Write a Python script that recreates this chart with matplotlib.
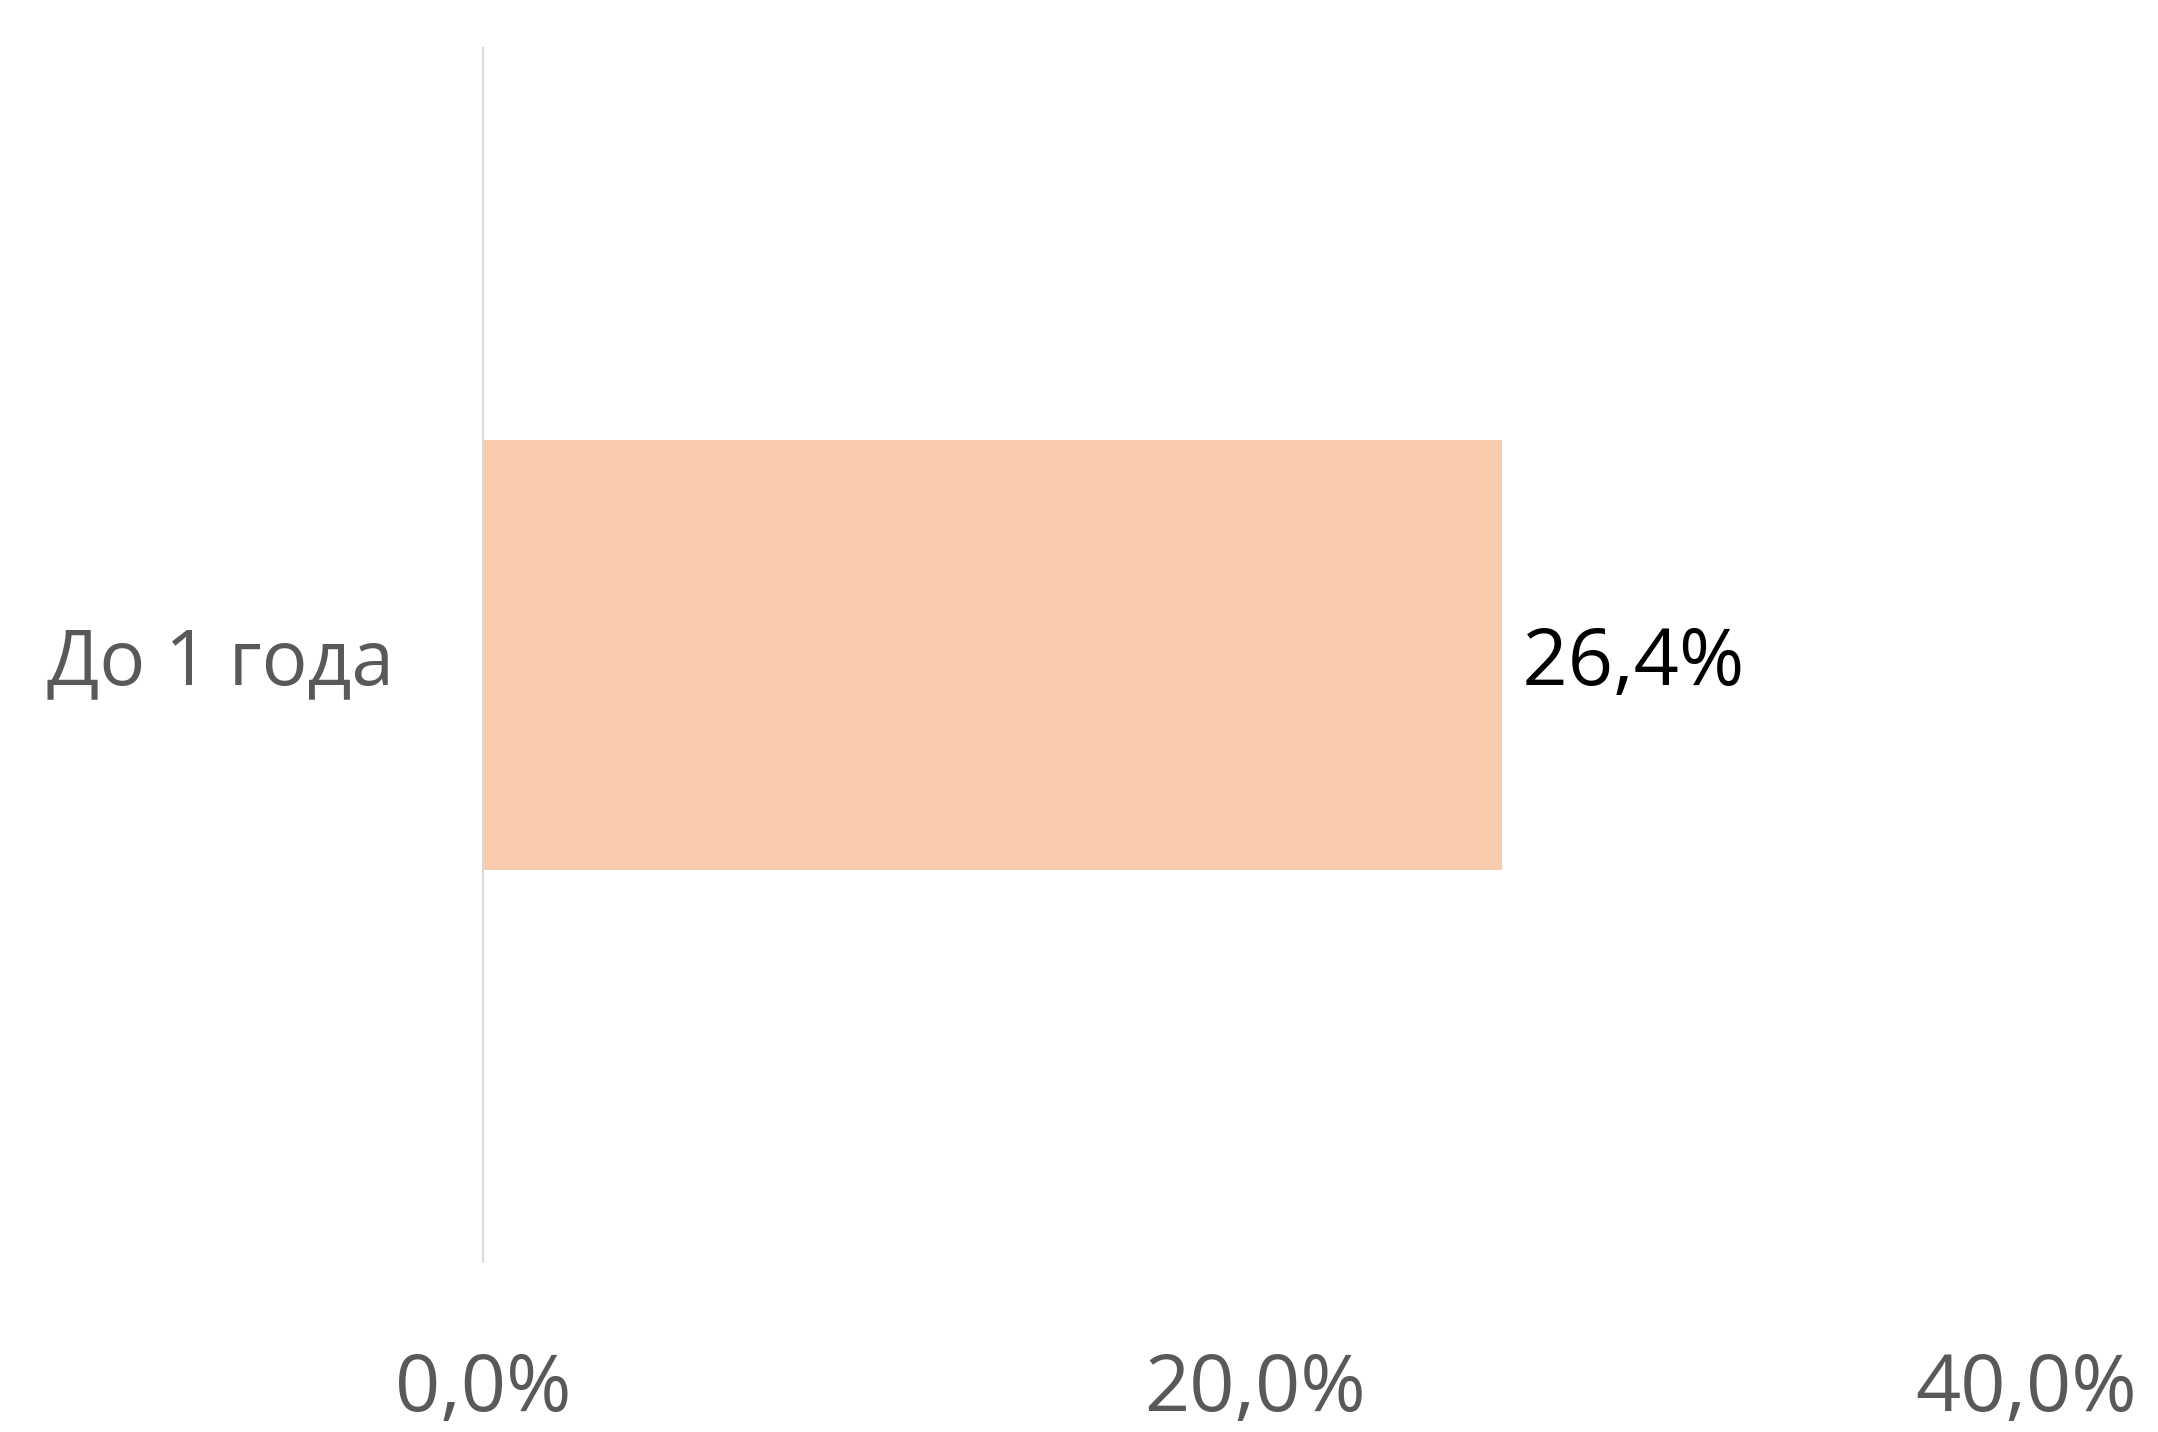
import matplotlib.pyplot as plt

# data
categories = ["До 1 года"]
values = [26.4]
x_ticks = [0, 20, 40]
x_tick_labels = ["0,0%", "20,0%", "40,0%"]

plt.rcParams['font.family'] = ['Open Sans', 'DejaVu Sans']

fig = plt.figure(figsize=(21.58, 14.32), dpi=100)
ax = fig.add_axes([0.2238, 0.1187, 0.939 - 0.2238, 0.9665 - 0.1187])

bars = ax.barh(categories, values, height=0.355, color="#F8CBAD")

for b, v in zip(bars, values):
    ax.text(b.get_width(), b.get_y() + b.get_height() / 2, f" {v:.1f}%".replace(".", ","),
            va="center_baseline", ha="left", fontsize=57, color="black")

ax.set_xlim(0, 40)
ax.set_ylim(-0.5, 0.5)
ax.set_xticks(x_ticks)
ax.set_xticklabels(x_tick_labels)
ax.tick_params(axis="x", length=0, pad=64, labelsize=57, labelcolor="#595959")
ax.tick_params(axis="y", length=0, pad=64, labelsize=55, labelcolor="#595959")

for s in ["top", "right", "bottom"]:
    ax.spines[s].set_visible(False)
ax.spines["left"].set_color("#D9D9D9")
ax.spines["left"].set_linewidth(1.5)

fig.savefig("out.png", dpi=100)
